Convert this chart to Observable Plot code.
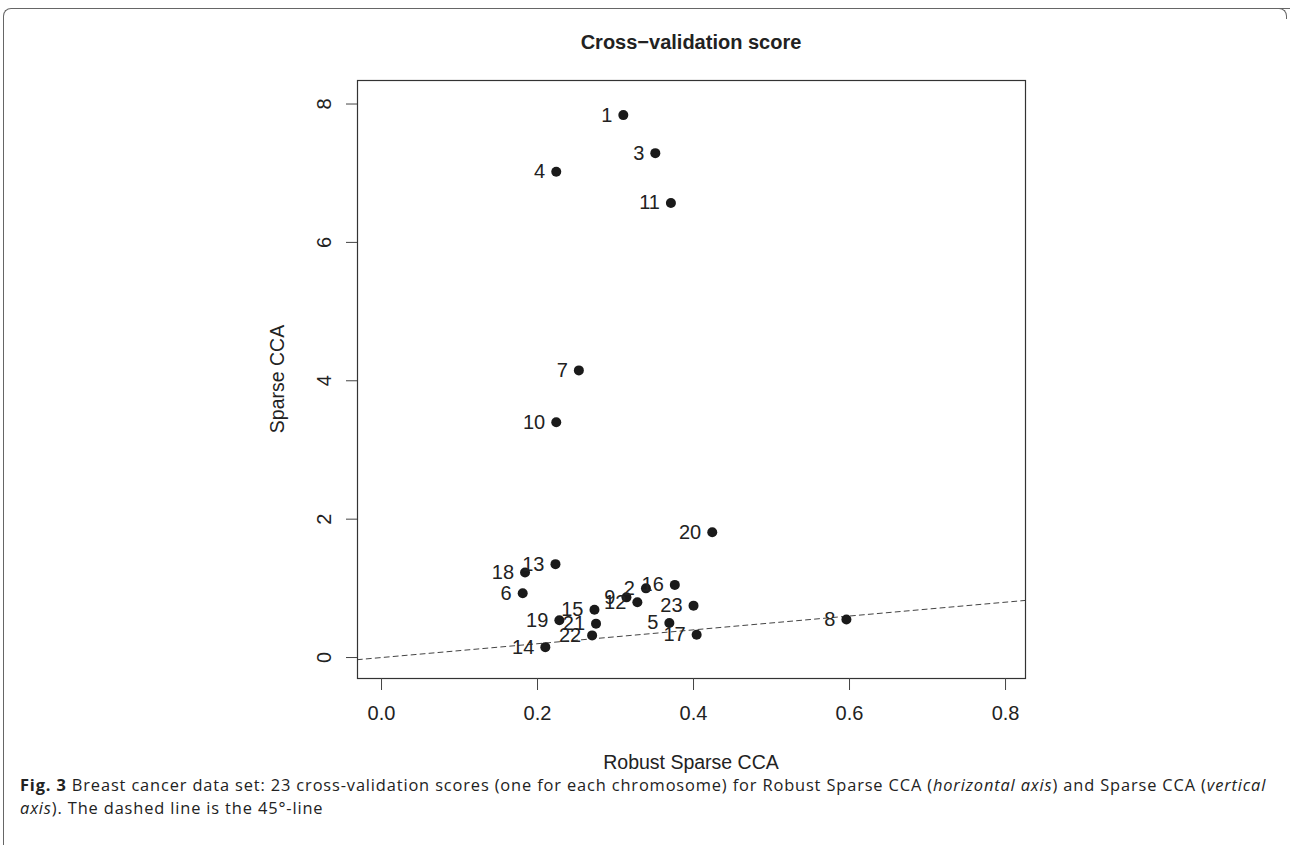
<!DOCTYPE html>
<html>
<head>
<meta charset="utf-8">
<script src="https://cdn.jsdelivr.net/npm/d3@7"></script>
<script src="https://cdn.jsdelivr.net/npm/@observablehq/plot@0.6"></script>
<style>
  html, body { margin: 0; padding: 0; background: #fff; }
  body { width: 1290px; height: 845px; position: relative; overflow: hidden; font-family: "Liberation Sans", Arial, sans-serif; color: #222; }
  #box { position: absolute; left: 3px; top: 8px; width: 1300px; height: 900px; border-top: 1px solid #666; border-left: 1px solid #666; border-top-left-radius: 8px; }
  #corner { position: absolute; left: 1278px; top: 8px; width: 8px; height: 10px; border-top: 1px solid #666; border-right: 1px solid #666; border-top-right-radius: 8px; }
  #title { position: absolute; left: 357px; width: 668px; top: 30px; text-align: center; font-weight: bold; font-size: 20px; line-height: 24px; }
  #plot { position: absolute; left: 0; top: 60px; }
  #xlabel { position: absolute; left: 357px; width: 668px; top: 750px; text-align: center; font-size: 19.5px; line-height: 24px; }
  #ylabel { position: absolute; left: 277px; top: 379px; transform: translate(-50%, -50%) rotate(-90deg); font-size: 19.5px; white-space: nowrap; }
  #caption { position: absolute; left: 20px; top: 773px; width: 1265px; font-family: "Open Sans", sans-serif; font-size: 16.4px; letter-spacing: 0.86px; line-height: 23px; color: #222; white-space: nowrap; }
  #caption b { font-weight: bold; }
</style>
</head>
<body>
<div id="box"></div>
<div id="corner"></div>
<div id="title">Cross−validation score</div>
<div id="plot"></div>
<div id="xlabel">Robust Sparse CCA</div>
<div id="ylabel">Sparse CCA</div>
<div id="caption"><b>Fig. 3</b> Breast cancer data set: 23 cross-validation scores (one for each chromosome) for Robust Sparse CCA (<i>horizontal axis</i>) and Sparse CCA (<i>vertical</i><br><i>axis</i>). The dashed line is the 45°-line</div>
<script>
// Chromosome labels
const chromosomes = ["1","2","3","4","5","6","7","8","9","10","11","12","13","14","15","16","17","18","19","20","21","22","23"];
// Robust Sparse CCA cross-validation scores (horizontal axis)
const robustScores = [0.310,0.339,0.351,0.224,0.369,0.181,0.253,0.596,0.314,0.224,0.371,0.328,0.223,0.210,0.273,0.376,0.404,0.184,0.228,0.424,0.275,0.270,0.400];
// Sparse CCA cross-validation scores (vertical axis)
const sparseScores = [7.84,1.00,7.29,7.02,0.50,0.93,4.15,0.55,0.87,3.40,6.57,0.80,1.35,0.15,0.69,1.05,0.33,1.23,0.54,1.81,0.49,0.32,0.75];
// Tick values
const xTicks = [0.0, 0.2, 0.4, 0.6, 0.8];
const yTicks = [0, 2, 4, 6, 8];
// 45-degree reference line endpoints (y = x)
const diagonal = [-0.1, 1.0];

const data = chromosomes.map((c, i) => ({label: c, x: robustScores[i], y: sparseScores[i]}));

const chart = Plot.plot({
  width: 1290,
  height: 728,
  marginLeft: 357,
  marginRight: 265,
  marginTop: 20,
  marginBottom: 110,
  style: {fontFamily: "Liberation Sans, Arial, sans-serif", fontSize: "20px", color: "#222", background: "transparent"},
  x: {domain: [-0.0308, 0.8256], label: null},
  y: {domain: [-0.303, 8.34], label: null},
  marks: [
    Plot.line(diagonal, {x: d => d, y: d => d, stroke: "#444", strokeWidth: 1, strokeDasharray: "5,4", clip: true}),
    Plot.frame({stroke: "#333", strokeWidth: 1.2}),
    Plot.axisX({ticks: xTicks, tickFormat: d3.format(".1f"), tickSize: 12, tickPadding: 15, fontSize: 20, stroke: "#444", fill: "#222", label: null}),
    Plot.axisY({ticks: yTicks, tickSize: 11, tickFormat: () => "", stroke: "#444", label: null}),
    Plot.text(yTicks, {y: d => d, text: d => String(d), frameAnchor: "left", dx: -33, rotate: -90, textAnchor: "middle", lineAnchor: "middle", fontSize: 20, fill: "#222"}),
    Plot.dot(data, {x: "x", y: "y", r: 5, fill: "#1a1a1a", stroke: "none"}),
    Plot.text(data, {x: "x", y: "y", text: "label", textAnchor: "end", dx: -11, fontSize: 20, fill: "#222"})
  ]
});
document.getElementById("plot").appendChild(chart);
</script>
</body>
</html>
